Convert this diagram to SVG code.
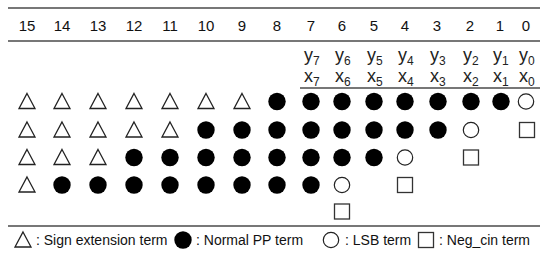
<svg xmlns="http://www.w3.org/2000/svg" width="550" height="255" viewBox="0 0 550 255">
<style>
.rule{stroke:#4a4a4a;stroke-width:1.5;fill:none}
.hd{font-family:"Liberation Sans",Arial,sans-serif;font-size:15px;fill:#111;text-anchor:middle}
.op{font-family:"Liberation Sans",Arial,sans-serif;font-size:18px;fill:#222}
.sub{font-size:12px}
.lg{font-family:"Liberation Sans",Arial,sans-serif;font-size:14px;fill:#111}
.tri{fill:#fff;stroke:#222;stroke-width:1.3;stroke-linejoin:miter}
.dot{fill:#000}
.lsb{fill:#fff;stroke:#222;stroke-width:1.2}
.neg{fill:#fff;stroke:#333;stroke-width:1.3}
</style>
<defs>
<path id="T" class="tri" d="M0,-8 L8,7 L-8,7 Z"/>
<circle id="D" class="dot" r="8.7"/>
<circle id="C" class="lsb" r="7.7"/>
<rect id="S" class="neg" x="-7.5" y="-7.5" width="15" height="15"/>
</defs>
<rect width="550" height="255" fill="#fff"/>
<g id="rules">
<line class="rule" x1="8" y1="8" x2="540" y2="8"/>
<line class="rule" x1="8" y1="41" x2="540" y2="41"/>
<line class="rule" x1="300" y1="88" x2="540" y2="88"/>
<line class="rule" x1="8" y1="226" x2="540" y2="226"/>
</g>
<g id="header">
<text class="hd" x="27" y="31">15</text>
<text class="hd" x="62" y="31">14</text>
<text class="hd" x="98" y="31">13</text>
<text class="hd" x="134" y="31">12</text>
<text class="hd" x="170" y="31">11</text>
<text class="hd" x="206" y="31">10</text>
<text class="hd" x="242" y="31">9</text>
<text class="hd" x="277" y="31">8</text>
<text class="hd" x="311" y="31">7</text>
<text class="hd" x="342" y="31">6</text>
<text class="hd" x="374" y="31">5</text>
<text class="hd" x="405" y="31">4</text>
<text class="hd" x="437" y="31">3</text>
<text class="hd" x="470" y="31">2</text>
<text class="hd" x="500" y="31">1</text>
<text class="hd" x="526" y="31">0</text>
</g>
<g id="operands">
<text class="op" x="304" y="61">y<tspan class="sub" dy="4">7</tspan></text>
<text class="op" x="335" y="61">y<tspan class="sub" dy="4">6</tspan></text>
<text class="op" x="367" y="61">y<tspan class="sub" dy="4">5</tspan></text>
<text class="op" x="398" y="61">y<tspan class="sub" dy="4">4</tspan></text>
<text class="op" x="430" y="61">y<tspan class="sub" dy="4">3</tspan></text>
<text class="op" x="463" y="61">y<tspan class="sub" dy="4">2</tspan></text>
<text class="op" x="493" y="61">y<tspan class="sub" dy="4">1</tspan></text>
<text class="op" x="519" y="61">y<tspan class="sub" dy="4">0</tspan></text>
<text class="op" x="304" y="82">x<tspan class="sub" dy="4">7</tspan></text>
<text class="op" x="335" y="82">x<tspan class="sub" dy="4">6</tspan></text>
<text class="op" x="367" y="82">x<tspan class="sub" dy="4">5</tspan></text>
<text class="op" x="398" y="82">x<tspan class="sub" dy="4">4</tspan></text>
<text class="op" x="430" y="82">x<tspan class="sub" dy="4">3</tspan></text>
<text class="op" x="463" y="82">x<tspan class="sub" dy="4">2</tspan></text>
<text class="op" x="493" y="82">x<tspan class="sub" dy="4">1</tspan></text>
<text class="op" x="519" y="82">x<tspan class="sub" dy="4">0</tspan></text>
</g>
<g id="pp0" transform="translate(0,101.5)">
<use href="#T" x="27"/><use href="#T" x="62"/><use href="#T" x="98"/><use href="#T" x="134"/><use href="#T" x="170"/><use href="#T" x="206"/><use href="#T" x="242"/>
<use href="#D" x="277"/><use href="#D" x="311"/><use href="#D" x="342"/><use href="#D" x="374"/><use href="#D" x="405"/><use href="#D" x="438"/><use href="#D" x="471"/><use href="#D" x="501"/>
<use href="#C" x="526"/>
</g>
<g id="pp1" transform="translate(0,130)">
<use href="#T" x="27"/><use href="#T" x="62"/><use href="#T" x="98"/><use href="#T" x="134"/><use href="#T" x="170"/>
<use href="#D" x="206"/><use href="#D" x="242"/><use href="#D" x="277"/><use href="#D" x="311"/><use href="#D" x="342"/><use href="#D" x="374"/><use href="#D" x="405"/><use href="#D" x="438"/>
<use href="#C" x="471"/>
<use href="#S" x="527"/>
</g>
<g id="pp2" transform="translate(0,157.5)">
<use href="#T" x="27"/><use href="#T" x="62"/><use href="#T" x="98"/>
<use href="#D" x="134"/><use href="#D" x="170"/><use href="#D" x="206"/><use href="#D" x="242"/><use href="#D" x="277"/><use href="#D" x="311"/><use href="#D" x="342"/><use href="#D" x="374"/>
<use href="#C" x="405"/>
<use href="#S" x="471"/>
</g>
<g id="pp3" transform="translate(0,185)">
<use href="#T" x="27"/>
<use href="#D" x="62"/><use href="#D" x="98"/><use href="#D" x="134"/><use href="#D" x="170"/><use href="#D" x="206"/><use href="#D" x="242"/><use href="#D" x="277"/><use href="#D" x="311"/>
<use href="#C" x="342"/>
<use href="#S" x="405"/>
</g>
<g id="pp4" transform="translate(0,211.5)">
<use href="#S" x="342"/>
</g>
<g id="legend">
<use href="#T" x="23" y="240"/>
<text class="lg" x="36" y="245">: Sign extension term</text>
<use href="#D" x="183" y="240"/>
<text class="lg" x="196" y="245">: Normal PP term</text>
<use href="#C" x="331" y="240"/>
<text class="lg" x="345" y="245">: LSB term</text>
<use href="#S" x="426" y="240"/>
<text class="lg" x="439" y="245">: Neg_cin term</text>
</g>
</svg>
